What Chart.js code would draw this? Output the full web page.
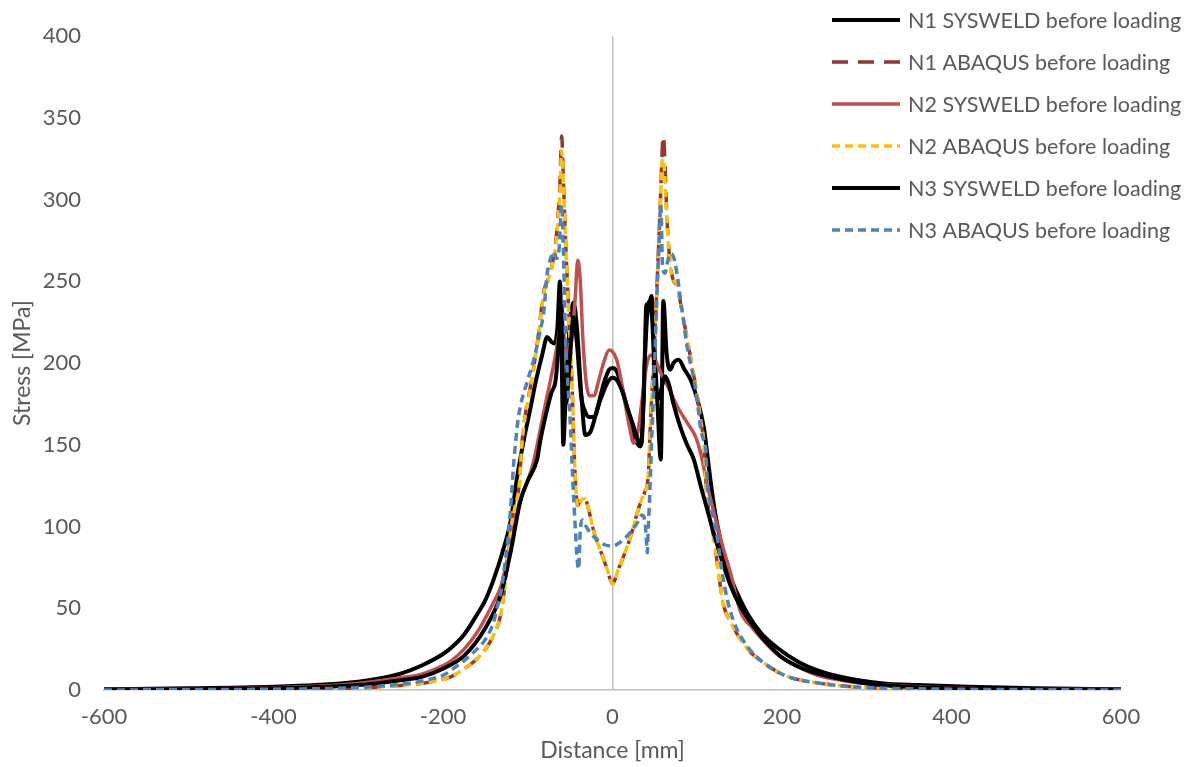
<!DOCTYPE html>
<html>
<head>
<meta charset="utf-8">
<script src="https://cdn.jsdelivr.net/npm/chart.js@4.4.1/dist/chart.umd.min.js"></script>
<style>
  html, body { margin: 0; padding: 0; background: #fff; }
  #wrap { width: 1188px; height: 767px; }
</style>
</head>
<body>
<div id="wrap"><canvas id="stressChart" width="1188" height="767"></canvas></div>
<script>
// Distance [mm] / stress [MPa] pairs for each run
const n1SysweldX = [-600, -500, -400, -350, -300, -275, -250, -225, -200, -190, -175, -160, -150, -140, -130, -120, -112, -105, -97, -90, -83, -77, -72, -68, -65, -62, -60, -58, -55, -50, -46, -42, -37, -32, -26, -18, -10, -4, 0, 5, 10, 16, 21, 27, 33, 37, 40, 43, 46, 49, 53, 57, 60, 64, 68, 72, 78, 85, 92, 100, 108, 114, 120, 126, 132, 140, 150, 160, 175, 194, 220, 242, 270, 320, 360, 420, 500, 600];
const n1SysweldY = [0.4, 1, 2, 3, 5, 7, 10, 15, 22, 26, 34, 46, 55, 68, 84, 104, 132, 152, 172, 190, 205, 216, 213, 212, 222, 250, 205, 150, 185, 225, 237, 222, 182, 156, 158, 172, 188, 196, 197, 195, 187, 175, 163, 153, 149, 180, 236, 236, 241, 215, 175, 141, 238, 205, 196, 200, 202, 196, 190, 178, 160, 135, 112, 95, 80, 68, 56, 46, 35, 26, 17, 12, 8, 4, 3, 2, 1, 0.4];

const n1AbaqusX = [-600, -500, -400, -300, -250, -220, -200, -191, -175, -160, -150, -140, -132, -126, -120, -115, -110, -107, -103, -97, -89, -81, -77, -72, -68, -65, -62, -60, -58, -55, -52, -48, -44, -41, -37, -33, -29, -22, -14, -7, 0, 7, 14, 22, 29, 34, 38, 42, 45, 48, 52, 56, 60, 62, 64, 67, 71, 76, 82, 88, 94, 100, 104, 108, 111, 115, 120, 125, 131, 140, 151, 165, 175, 195, 214, 240, 261, 300, 400, 500, 600];
const n1AbaqusY = [0, 0.1, 0.4, 1.2, 2.8, 4.5, 6.5, 8, 13, 19, 25, 34, 46, 68, 98, 112, 126, 150, 168, 185, 211, 244, 250, 258, 270, 285, 310, 339, 312, 270, 236, 190, 130, 113, 117, 118, 112, 97, 85, 75, 65, 74, 83, 95, 108, 116, 121, 130, 166, 196, 242, 292, 339, 322, 292, 266, 252, 247, 232, 215, 198, 180, 165, 150, 121, 105, 92, 72, 52, 41, 31, 22, 18, 11, 7, 4.5, 3, 1.5, 0.4, 0.1, 0];

const n2SysweldX = [-600, -500, -400, -300, -250, -230, -200, -190, -175, -160, -150, -140, -132, -125, -117, -110, -100, -93, -85, -78, -73, -68, -64, -60, -56, -52, -48, -44, -41, -38, -35, -31, -27, -22, -16, -10, -4, 0, 5, 10, 15, 20, 25, 30, 35, 40, 45, 51, 57, 65, 77, 90, 98, 104, 112, 120, 130, 139, 151, 165, 175, 194, 220, 242, 270, 300, 400, 500, 600];
const n2SysweldY = [0.3, 0.7, 1.4, 4, 7.5, 9, 15, 18, 25, 35, 44, 54, 63, 78, 100, 115, 128, 140, 160, 178, 190, 203, 215, 226, 212, 205, 215, 240, 263, 250, 215, 188, 180, 180, 190, 201, 208, 207, 202, 190, 175, 161, 151, 158, 178, 198, 205, 201, 194, 186, 173, 162, 155, 145, 125, 108, 88, 72, 48, 38, 32, 22, 14, 9, 6, 4, 1.3, 0.6, 0.3];

const n2AbaqusX = [-600, -500, -400, -300, -250, -220, -200, -191, -175, -160, -150, -140, -132, -126, -120, -115, -110, -107, -103, -97, -89, -81, -77, -72, -68, -65, -62, -60, -58, -55, -52, -48, -44, -41, -37, -33, -29, -22, -14, -7, 0, 7, 14, 22, 29, 34, 38, 42, 45, 48, 52, 56, 59, 61, 64, 67, 71, 76, 82, 88, 94, 100, 104, 108, 111, 115, 120, 125, 131, 140, 151, 165, 175, 195, 214, 240, 261, 300, 400, 500, 600];
const n2AbaqusY = [0, 0.1, 0.4, 1.2, 2.8, 4.5, 6.5, 8, 13, 19, 25, 34, 46, 68, 98, 112, 125, 150, 168, 184, 210, 243, 249, 258, 268, 282, 305, 330, 310, 270, 235, 190, 130, 112, 116, 117, 112, 97, 85, 75, 65, 74, 83, 95, 108, 116, 121, 130, 165, 195, 240, 290, 325, 320, 290, 265, 252, 248, 232, 215, 198, 180, 165, 150, 120, 105, 92, 72, 52, 41, 31, 22, 18, 11, 7, 4.5, 3, 1.5, 0.4, 0.1, 0];

const n3SysweldX = [-600, -500, -400, -300, -250, -225, -200, -175, -150, -132, -120, -109, -100, -89, -85, -77, -72, -67, -63, -60, -58, -55, -50, -46, -42, -37, -32, -27, -22, -14, -6, 0, 6, 12, 18, 25, 30, 34, 38, 41, 44, 47, 50, 54, 58, 62, 66, 72, 80, 88, 96, 104, 112, 120, 130, 140, 150, 165, 180, 200, 225, 250, 300, 400, 500, 600];
const n3SysweldY = [0.2, 0.5, 1, 3, 6, 8, 13, 21, 38, 58, 85, 115, 128, 141, 153, 172, 182, 190, 215, 235, 180, 175, 205, 228, 212, 180, 170, 167, 167, 178, 188, 191, 189, 182, 172, 161, 153, 150, 200, 230, 238, 225, 190, 178, 185, 192, 188, 175, 161, 150, 141, 125, 110, 95, 78, 63, 52, 40, 30, 20, 13, 9, 4, 1, 0.5, 0.2];

const n3AbaqusX = [-600, -500, -400, -300, -250, -220, -200, -191, -175, -160, -150, -140, -136, -132, -126, -122, -119, -117, -115, -112, -109, -101, -93, -86, -81, -77, -73, -69, -66, -63, -60, -58, -56, -53, -50, -47, -44, -42, -40, -38, -35, -31, -26, -18, -10, 0, 8, 15, 22, 29, 35, 38, 40, 41, 42, 44, 46, 49, 52, 55, 57, 59, 62, 65, 68, 72, 76, 80, 84, 88, 96, 100, 104, 108, 110, 112, 115, 118, 124, 130, 137, 143, 150, 160, 175, 195, 214, 240, 261, 300, 400, 500, 600];
const n3AbaqusY = [0, 0.2, 0.5, 1.5, 3.5, 6, 9, 12, 18, 25, 31, 42, 51, 59, 81, 100, 120, 136, 148, 163, 173, 188, 202, 218, 232, 255, 264, 268, 264, 270, 297, 270, 225, 190, 165, 130, 100, 82, 74, 98, 104, 100, 96, 92, 89, 88, 90, 93, 97, 102, 107, 104, 92, 84, 96, 120, 150, 190, 235, 275, 297, 260, 255, 262, 267, 265, 255, 240, 225, 210, 190, 177, 160, 152, 148, 126, 115, 108, 92, 70, 52, 42, 34, 26, 18, 11, 7, 4.5, 3, 1.5, 0.5, 0.2, 0];

const xTicks = { min: -600, max: 600, step: 200 };
const yTicks = { min: 0, max: 400, step: 50 };

const seriesNames = [
  "N1 SYSWELD before loading",
  "N1 ABAQUS before loading",
  "N2 SYSWELD before loading",
  "N2 ABAQUS before loading",
  "N3 SYSWELD before loading",
  "N3 ABAQUS before loading"
];

const TEXT = "#595959";
const AXIS = "#bfbfbf";
Chart.defaults.font.family = "Lato, 'Open Sans', sans-serif";
Chart.defaults.color = TEXT;

function pairs(xs, ys) {
  return xs.map((x, i) => ({ x: x, y: ys[i] }));
}

const styles = [
  { color: "#000000", width: 4, dash: [] },
  { color: "#943634", width: 3.5, dash: [16, 10] },
  { color: "#C0504D", width: 3.5, dash: [] },
  { color: "#FFC000", width: 3.5, dash: [8, 5] },
  { color: "#000000", width: 4, dash: [] },
  { color: "#4F81BD", width: 3.5, dash: [8, 5] }
];

const seriesData = [
  pairs(n1SysweldX, n1SysweldY),
  pairs(n1AbaqusX, n1AbaqusY),
  pairs(n2SysweldX, n2SysweldY),
  pairs(n2AbaqusX, n2AbaqusY),
  pairs(n3SysweldX, n3SysweldY),
  pairs(n3AbaqusX, n3AbaqusY)
];

const datasets = seriesData.map((d, i) => ({
  label: seriesNames[i],
  data: d,
  showLine: true,
  borderColor: styles[i].color,
  borderWidth: styles[i].width,
  borderDash: styles[i].dash,
  pointRadius: 0,
  fill: false,
  cubicInterpolationMode: "monotone",
  order: seriesData.length - i   // later series painted on top
}));

// Legend drawn in the upper right, over the plot
const sideLegend = {
  id: "sideLegend",
  afterDraw(chart) {
    const c = chart.ctx;
    const x0 = 832, x1 = 900, tx = 908;
    const rows = [20, 62, 104, 146, 188, 230];
    c.save();
    c.font = "21.5px Lato, 'Open Sans', sans-serif";
    c.textBaseline = "middle";
    c.fillStyle = TEXT;
    seriesNames.forEach((name, i) => {
      const y = rows[i];
      c.beginPath();
      c.strokeStyle = styles[i].color;
      c.lineWidth = styles[i].width;
      c.setLineDash(styles[i].dash);
      c.moveTo(x0, y);
      c.lineTo(x1, y);
      c.stroke();
      c.setLineDash([]);
      c.fillText(name, tx, y + 1);
    });
    c.restore();
  }
};

new Chart(document.getElementById("stressChart"), {
  type: "scatter",
  data: { datasets },
  options: {
    responsive: false,
    animation: false,
    layout: { padding: { top: 36, right: 67, left: 0, bottom: 0 } },
    scales: {
      x: {
        type: "linear",
        min: xTicks.min,
        max: xTicks.max,
        afterFit(scale) { scale.height = 77; },
        ticks: { stepSize: xTicks.step, padding: 14, font: { size: 22 } },
        grid: {
          drawTicks: false,
          lineWidth: 1.5,
          color: ctx => (ctx.tick && ctx.tick.value === 0 ? AXIS : "rgba(0,0,0,0)")
        },
        border: { color: AXIS, width: 1.5 },
        title: { display: true, text: "Distance [mm]", font: { size: 23 }, padding: { top: 0, bottom: 3 } }
      },
      y: {
        min: yTicks.min,
        max: yTicks.max,
        afterFit(scale) { scale.width = 104; },
        ticks: { stepSize: yTicks.step, padding: 23, font: { size: 22 } },
        grid: { display: false, drawTicks: false },
        border: { display: false },
        title: { display: true, text: "Stress [MPa]", font: { size: 23 }, padding: { top: 9, bottom: 0 } }
      }
    },
    plugins: {
      legend: { display: false },
      tooltip: { enabled: false }
    }
  },
  plugins: [sideLegend]
});
</script>
</body>
</html>
